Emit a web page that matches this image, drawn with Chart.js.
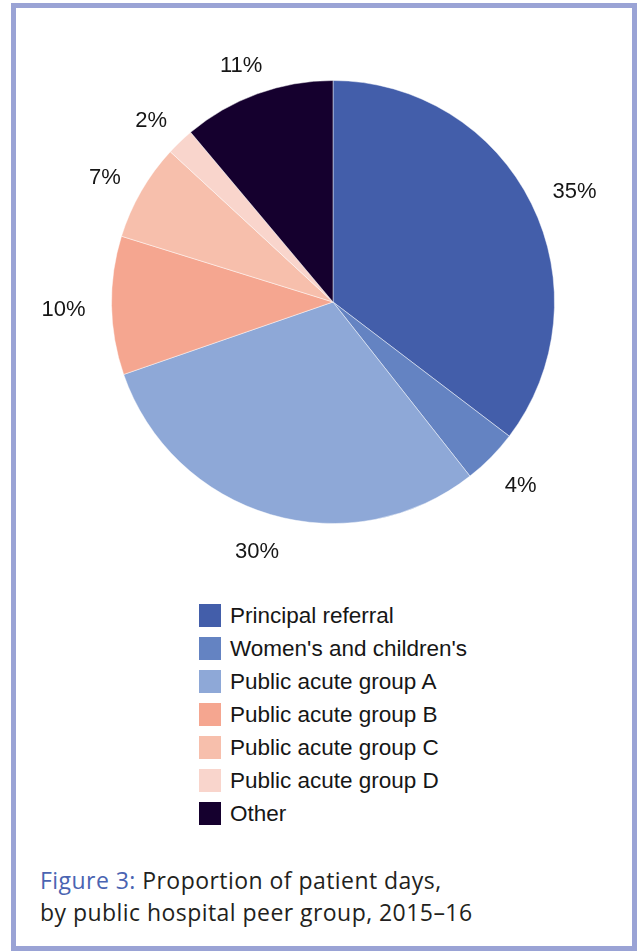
<!DOCTYPE html>
<html lang="en">
<head>
    <meta charset="UTF-8">
    <title>Patient days by peer group</title>
    <script src="https://cdn.jsdelivr.net/npm/chart.js@4.4.1/dist/chart.umd.min.js"></script>
    <style>
        * { box-sizing: border-box; }
        body { margin: 0; width: 637px; height: 951px; background: #fff; position: relative; overflow: hidden; }

        .frame {
            position: absolute;
            left: 11px; top: 3px;
            width: 626px; height: 948px;
            border: 5px solid #9aa3d5;
        }

        #pieChart { position: absolute; left: 16px; top: 8px; }

        .legend {
            position: absolute;
            left: 199px; top: 599px;
            font-family: "Liberation Sans", Arial, sans-serif;
            font-size: 22.5px;
            color: #161616;
        }
        .legend-row { display: flex; align-items: center; height: 33px; }
        .legend-box { width: 22px; height: 23px; margin-right: 9px; flex: none; }

        .caption {
            position: absolute;
            left: 40px; top: 864px;
            font-family: "Open Sans", Lato, sans-serif;
            font-size: 23px;
            letter-spacing: 0.45px;
            line-height: 32px;
            color: #231f20;
        }
        .caption .fig { color: #4a64b2; }
    </style>
</head>
<body>
    <div class="frame"></div>
    <canvas id="pieChart" width="615" height="590"></canvas>
    <div class="legend" id="legend"></div>
    <div class="caption">
        <span class="fig">Figure 3:</span> Proportion of patient days,<br>
        by public hospital peer group, 2015–16
    </div>

    <script>
        const categories = [
            "Principal referral",
            "Women's and children's",
            "Public acute group A",
            "Public acute group B",
            "Public acute group C",
            "Public acute group D",
            "Other"
        ];
        const shares = [35, 4, 30, 10, 7, 2, 11];
        const sliceColors = ["#435eaa", "#6483c2", "#8ea8d7", "#f5a690", "#f7bfac", "#f9d5cc", "#15002e"];

        // percent labels just outside each slice
        const outsideLabels = {
            id: "outsideLabels",
            afterDatasetsDraw(chart) {
                const ctx = chart.ctx;
                const arcs = chart.getDatasetMeta(0).data;
                ctx.save();
                ctx.font = "22px 'Liberation Sans', Arial, sans-serif";
                ctx.fillStyle = "#161616";
                ctx.textAlign = "center";
                ctx.textBaseline = "middle";
                arcs.forEach((arc, i) => {
                    const text = shares[i] + "%";
                    const mid = (arc.startAngle + arc.endAngle) / 2;
                    const w = ctx.measureText(text).width;
                    const h = 17;
                    const r = arc.outerRadius + 26;
                    const x = arc.x + Math.cos(mid) * (r + w / 2);
                    const y = arc.y + Math.sin(mid) * (r + h / 2) + 4;
                    ctx.fillText(text, x, y);
                });
                ctx.restore();
            }
        };

        const chart = new Chart(document.getElementById("pieChart"), {
            type: "pie",
            data: {
                labels: categories,
                datasets: [{
                    data: shares,
                    backgroundColor: sliceColors,
                    borderColor: "rgba(255,255,255,0.45)",
                    borderWidth: 1
                }]
            },
            options: {
                responsive: false,
                animation: false,
                layout: { padding: { left: 95, right: 76, top: 72, bottom: 74 } },
                plugins: {
                    legend: { display: false },
                    tooltip: { enabled: false }
                }
            },
            plugins: [outsideLabels]
        });

        // legend listed one entry per row under the pie
        const legendEl = document.getElementById("legend");
        chart.options.plugins.legend.labels.generateLabels(chart).forEach(item => {
            const row = document.createElement("div");
            row.className = "legend-row";
            const box = document.createElement("span");
            box.className = "legend-box";
            box.style.background = item.fillStyle;
            const label = document.createElement("span");
            label.textContent = item.text;
            row.appendChild(box);
            row.appendChild(label);
            legendEl.appendChild(row);
        });
    </script>
</body>
</html>
